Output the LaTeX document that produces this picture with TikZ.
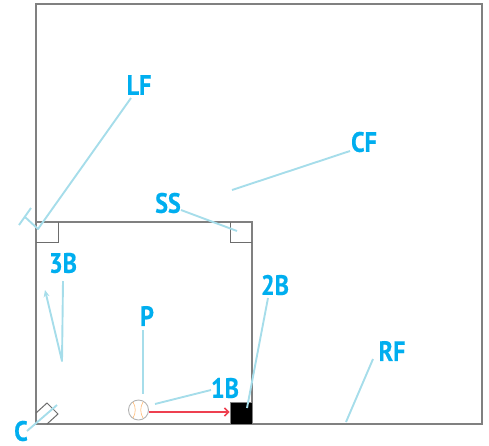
\documentclass[tikz,border=0pt]{standalone}
\usepackage{fontspec}
\setmainfont{PT Sans}[BoldFeatures={FakeBold=0.6}]
\usetikzlibrary{arrows.meta}
\definecolor{lab}{HTML}{00AEEF}
\definecolor{lin}{HTML}{A6DDEA}
\definecolor{fld}{HTML}{808080}
\definecolor{thr}{HTML}{EE4050}
\tikzset{
  poslabel/.style={font=\bfseries\fontsize{28}{28}\selectfont, text=lab, inner sep=0pt, xscale=0.86},
  guide/.style={draw=lin, line width=1.9pt, line join=round},
  field/.style={draw=fld, line width=1.1pt},
  padline/.style={draw=fld!85!black, line width=1pt}
}
\begin{document}
\begin{tikzpicture}[x=1pt,y=-1pt]
\useasboundingbox (0,0) rectangle (489,445);
% field
\draw[field] (36,4) rectangle (482,424);
\draw[field] (36,222) rectangle (252,424);
\draw[padline] (36,242) -- (58,242) -- (58,222);
\draw[padline] (230,222) -- (230,242) -- (252,242);
\draw[padline] (36,413) -- (47,403) -- (58,414) -- (47,424);
\node[fill=black, draw=fld, line width=0.8pt, minimum width=22pt, minimum height=21.5pt, inner sep=0pt] (first) at (241,413.5) {};
% ball
\node[circle, draw=black!30, line width=0.9pt, minimum size=20pt, inner sep=0pt] (ball) at (138.5,410) {};
\draw[orange!55, line width=0.6pt] (133,402) .. controls (136,407) and (136,413) .. (133,418);
\draw[orange!55, line width=0.6pt] (143,402) .. controls (140,407) and (140,413) .. (143,418);
\draw[thr, line width=1.6pt, -{Straight Barb[length=4pt,width=8pt]}] (ball.east |- 0,412) -- (first.west |- 0,412);
% labels
\node[poslabel] (lf) at (139,85) {LF};
\node[poslabel] (cf) at (364,142) {CF};
\node[poslabel] (ss) at (168,203) {SS};
\node[poslabel] (tb) at (63,263) {3B};
\node[poslabel] (sb) at (275,285) {2B};
\node[poslabel] (p) at (147,316) {P};
\node[poslabel] (rf) at (392,351) {RF};
\node[poslabel] (fb) at (225,388) {1B};
\node[poslabel] (c) at (21,431) {C};
% guide ends
\coordinate (lfs) at (131,98);
\coordinate (lfa) at (38,229);
\coordinate (lfb) at (25,217);
\coordinate (lfc) at (19,225);
\coordinate (lfd) at (31,208);
\coordinate (cfs) at (350,151);
\coordinate (cfe) at (232,190);
\coordinate (sss) at (181,210);
\coordinate (sse) at (237,231);
\coordinate (tbs) at (63,281);
\coordinate (tba) at (62,361);
\coordinate (tbb) at (45,290);
\coordinate (sbs) at (268,298);
\coordinate (sbe) at (247,408);
\coordinate (ps) at (143,330);
\coordinate (pe) at (143,394);
\coordinate (rfs) at (373,359);
\coordinate (rfe) at (346,422);
\coordinate (fbs) at (211,390);
\coordinate (fbe) at (155,404);
\coordinate (cs) at (27,431);
\coordinate (ce) at (57,405);
% guides
\draw[guide] (lfs) -- (lfa) -- (lfb);
\draw[guide] (lfc) -- (lfd);
\draw[guide] (cfs) -- (cfe);
\draw[guide] (sss) -- (sse);
\draw[guide, -{Stealth[length=7pt,width=6pt]}] (tbs) -- (tba) -- (tbb);
\draw[guide] (sbs) -- (sbe);
\draw[guide] (ps) -- (pe);
\draw[guide] (rfs) -- (rfe);
\draw[guide] (fbs) -- (fbe);
\draw[guide] (cs) -- (ce);
\end{tikzpicture}
\end{document}
